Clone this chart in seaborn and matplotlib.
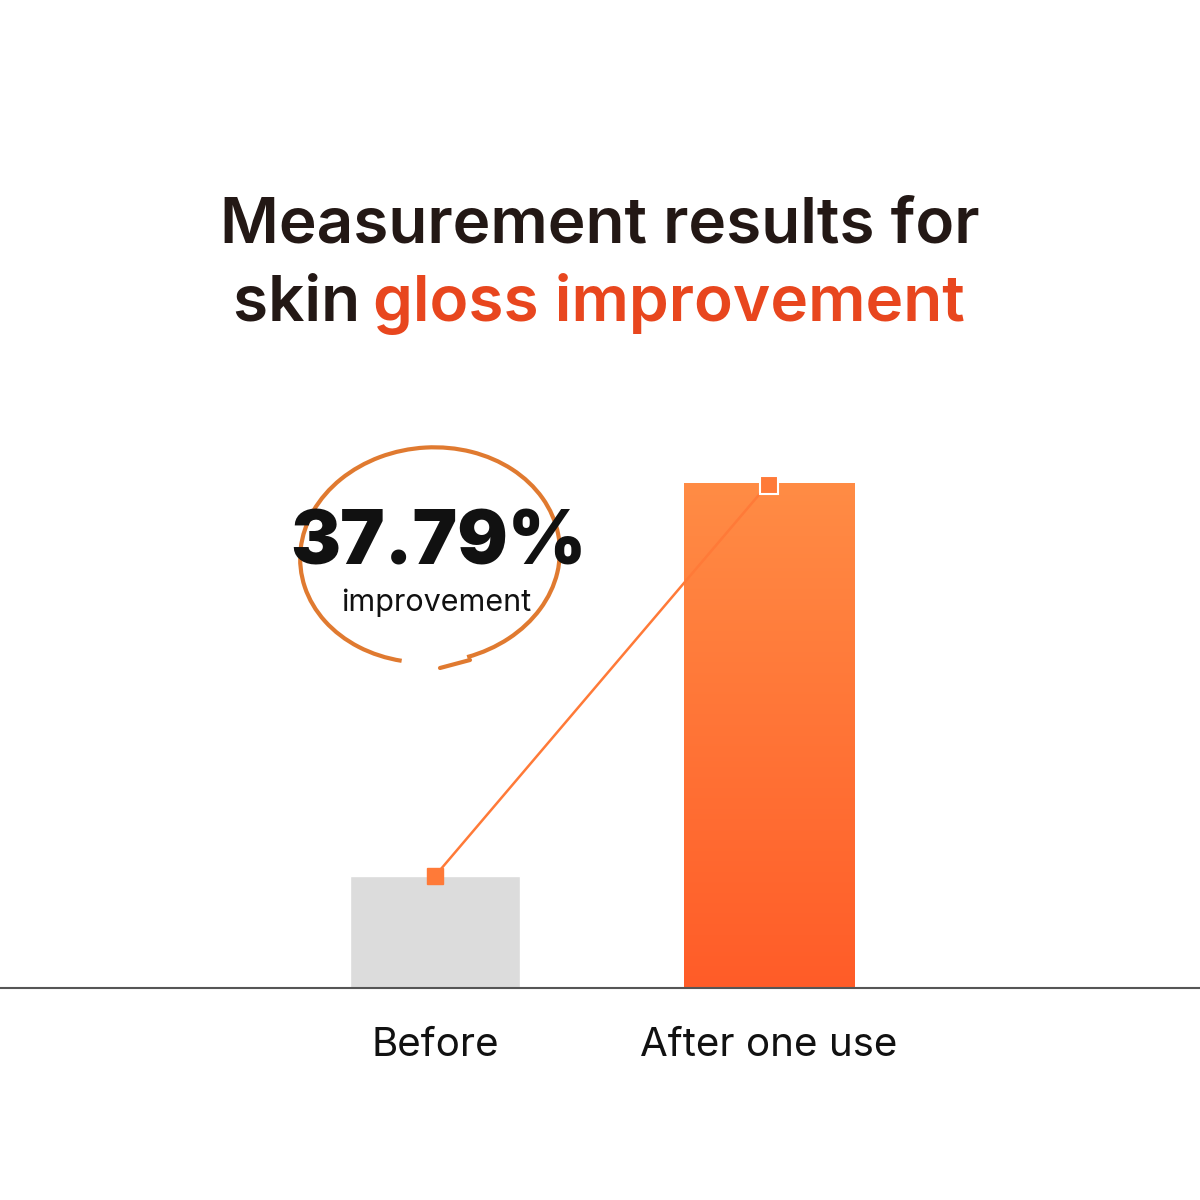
import matplotlib
matplotlib.use("Agg")
import matplotlib.pyplot as plt
import seaborn as sns
import numpy as np
from matplotlib.patches import Arc
from matplotlib.colors import LinearSegmentedColormap

categories = ["Before", "After one use"]
values = [112, 505]
improvement = "37.79%"

sns.set_theme(style="white")
plt.rcParams['font.family'] = ['Inter', 'DejaVu Sans']

fig = plt.figure(figsize=(12, 12), dpi=100)
ax = fig.add_axes([0, 1 - 988/1200, 1, 520/1200])
sns.barplot(x=categories, y=values, hue=categories, palette=["#dcdcdc", "#ff7a38"],
            width=0.509, ax=ax, legend=False, saturation=1)
for s in ["top", "right", "left"]:
    ax.spines[s].set_visible(False)
ax.spines["bottom"].set_color("#555555")
ax.spines["bottom"].set_linewidth(1.5)
ax.set_yticks([])
ax.set_xlabel(""); ax.set_ylabel("")
ax.tick_params(axis="x", length=0, pad=28, labelsize=29, labelcolor="#111111")

bar = ax.patches[1]
x0, w, h = bar.get_x(), bar.get_width(), bar.get_height()
cmap = LinearSegmentedColormap.from_list("g", ["#ff5c28", "#ff8c45"])
grad = np.linspace(0, 1, 256).reshape(-1, 1)
im = ax.imshow(grad, cmap=cmap, extent=[x0, x0 + w, 0, h], origin="lower",
               aspect="auto", zorder=bar.get_zorder() + 0.1)
im.set_clip_path(bar)
ax.set_xlim(-435/334, (1200-435)/334)
ax.set_ylim(0, 520)

ax.plot([0, 1], values, color="#ff7a38", lw=1.8, zorder=5)
ax.plot(0, values[0], marker="s", ms=11, color="#ff7a38", zorder=6)
ax.plot(1, values[1] - 2, marker="s", ms=13, mfc="#ff7a38", mec="white", mew=1.5, zorder=6)

fig.text(0.5, 1 - 226/1200, "Measurement results for", ha="center", va="center",
         fontsize=46, fontweight="semibold", color="#231815")
fig.text(233/1200, 1 - 304/1200, "skin ", ha="left", va="center",
         fontsize=46, fontweight="semibold", color="#231815")
fig.text(373/1200, 1 - 304/1200, "gloss improvement", ha="left", va="center",
         fontsize=46, fontweight="semibold", color="#e8461e")

ov = fig.add_axes([0, 0, 1, 1], zorder=10)
ov.set_xlim(0, 1200); ov.set_ylim(1200, 0); ov.axis("off")
ov.add_patch(Arc((430, 555), 260, 215, angle=-5, theta1=-250, theta2=75,
                 color="#e07a30", lw=3))
ov.plot([440, 470], [668, 660], color="#e07a30", lw=3)
ov.text(438, 545, improvement, ha="center", va="center", fontsize=54,
        fontweight="black", color="#111111")
ov.text(436, 603, "improvement", ha="center", va="center", fontsize=22, color="#111111")

fig.savefig("out.png", dpi=100, facecolor="white")
